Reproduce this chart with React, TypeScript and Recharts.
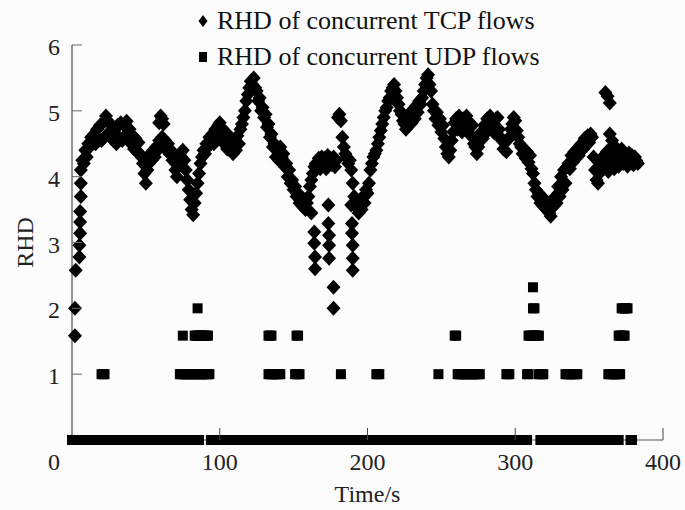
import { ScatterChart, Scatter, XAxis, YAxis, Legend } from 'recharts';

const FONT = "'Liberation Serif', 'Times New Roman', serif";

// RHD of concurrent TCP flows, read once per second starting at t = 6 s
const tcpStart = 6;
const tcpValues = [
  4.1, 4.25, 4.2, 4.4, 4.3, 4.5, 4.45, 4.6, 4.5, 4.65,
  4.5, 4.72, 4.55, 4.78, 4.55, 4.82, 4.6, 4.92, 4.65, 4.82,
  4.6, 4.78, 4.55, 4.72, 4.5, 4.78, 4.6, 4.82, 4.55, 4.78,
  4.62, 4.84, 4.6, 4.72, 4.5, 4.62, 4.42, 4.58, 4.38, 4.52,
  4.35, 4.3, 4.2, 4.05, 3.9, 4.1, 4.2, 4.35, 4.25, 4.4,
  4.3, 4.45, 4.4, 4.55, 4.5, 4.6, 4.5, 4.55, 4.4, 4.5,
  4.35, 4.4, 4.25, 4.3, 4.1, 4.0, 4.2, 4.35, 4.3, 4.4,
  4.25, 4.1, 3.95, 3.8, 3.65, 3.5, 3.42, 3.6, 3.75, 3.9,
  4.05, 4.2, 4.3, 4.4, 4.35, 4.5, 4.45, 4.6, 4.5, 4.65,
  4.5, 4.72, 4.55, 4.78, 4.82, 4.6, 4.72, 4.5, 4.68, 4.42,
  4.62, 4.4, 4.58, 4.35, 4.52, 4.4, 4.62, 4.5, 4.72, 4.8,
  4.9, 5.0, 5.15, 5.25, 5.35, 5.45, 5.4, 5.5, 5.35, 5.3,
  5.15, 5.2, 5.0, 5.05, 4.9, 4.95, 4.75, 4.8, 4.6, 4.65,
  4.45, 4.5, 4.3, 4.4, 4.25, 4.45, 4.3, 4.35, 4.15, 4.2,
  4.0, 4.1, 3.9, 3.95, 3.8, 3.85, 3.7, 3.75, 3.6, 3.7,
  3.55, 3.65, 3.5, 3.6, 3.7, 3.85, 3.95, 4.05, 4.15, 4.2,
  4.2, 4.28, 4.12, 4.3, 4.18, 4.28, 4.12, 4.32, 4.18, 4.28,
  4.18, 4.3, 4.15, 4.25, 4.9, 4.95, 4.85, 4.6, 4.45, 4.35,
  4.3, 4.2, 4.25, 4.1, 3.9, 3.7, 3.55, 3.6, 3.45, 3.65,
  3.5, 3.7, 3.6, 3.8, 3.75, 3.9, 4.1, 4.2, 4.3, 4.35,
  4.4, 4.5, 4.6, 4.7, 4.8, 4.9, 5.0, 5.05, 5.15, 5.2,
  5.3, 5.35, 5.4, 5.3, 5.2, 5.1, 5.0, 4.95, 4.85, 4.8,
  4.72, 4.88, 4.78, 4.98, 4.82, 5.02, 4.88, 5.08, 4.98, 5.15,
  5.1, 5.2, 5.3, 5.4, 5.5, 5.55, 5.4, 5.3, 5.1, 5.0,
  4.88, 4.98, 4.78, 4.88, 4.68, 4.78, 4.58, 4.45, 4.35, 4.3,
  4.4, 4.55, 4.68, 4.82, 4.88, 4.72, 4.92, 4.78, 4.68, 4.88,
  4.72, 4.92, 4.68, 4.82, 4.62, 4.78, 4.5, 4.45, 4.35, 4.45,
  4.55, 4.68, 4.58, 4.78, 4.66, 4.88, 4.76, 4.92, 4.72, 4.82,
  4.66, 4.88, 4.9, 4.72, 4.6, 4.55, 4.42, 4.52, 4.38, 4.56,
  4.6, 4.72, 4.8, 4.9, 4.85, 4.7, 4.6, 4.5, 4.45, 4.35,
  4.42, 4.28, 4.38, 4.22, 4.32, 4.12, 4.05, 3.9, 3.8, 3.7,
  3.75, 3.6, 3.7, 3.55, 3.65, 3.5, 3.6, 3.45, 3.4, 3.55,
  3.55, 3.7, 3.6, 3.85, 3.7, 4.0, 3.8, 4.1, 3.9, 4.15,
  4.2, 4.12, 4.32, 4.22, 4.38, 4.28, 4.42, 4.32, 4.48, 4.5,
  4.42, 4.58, 4.48, 4.62, 4.52, 4.65, 4.6, 4.3, 4.1, 3.95,
  3.9, 4.05, 4.2, 4.12, 4.32, 4.18, 4.38, 4.08, 4.28, 4.16,
  4.32, 4.12, 4.28, 4.38, 4.16, 4.32, 4.42, 4.2, 4.36, 4.26,
  4.16, 4.36, 4.22, 4.32, 4.18, 4.3, 4.24, 4.2,
];

// stray TCP points off the main band: [time, RHD]
const tcpExtra = [
  [2, 1.585], [2, 2], [2.5, 2.58], [5, 2.78], [5, 2.96], [5.5, 3.14], [5.5, 3.31], [5.5, 3.47], [6, 3.7], [6, 3.9],
  [59, 4.82], [60, 4.92], [61, 4.88], [62, 4.8],
  [162, 3.45], [164, 3.16], [164, 2.99], [164.5, 2.78], [164.5, 2.6],
  [173.5, 3.57], [173.5, 3.29], [174, 3.11], [174, 2.96], [174, 2.76], [177, 2.32], [177, 2],
  [189, 3.57], [189.5, 3.29], [189.5, 3.14], [190, 2.96], [190, 2.76], [190, 2.58],
  [361, 5.28], [362.5, 5.22], [364, 5.12], [364, 4.65], [365.5, 4.55], [366.5, 4.48],
];

// RHD of concurrent UDP flows, one point per second inside each run: [RHD, from, to]
const udpRuns = [
  [0, 0, 86], [0, 94, 308], [0, 317, 370], [0, 378, 379],
  [1, 20, 22], [1, 73, 93], [1, 133, 141], [1, 151, 154], [1, 182, 182], [1, 206, 208],
  [1, 248, 248], [1, 261, 276], [1, 294, 296], [1, 308, 309], [1, 316, 319], [1, 334, 342], [1, 363, 371],
  [1.585, 75, 75], [1.585, 83, 92], [1.585, 133, 135], [1.585, 152, 153], [1.585, 259, 260],
  [1.585, 309, 316], [1.585, 370, 374],
  [2, 85, 85], [2, 312, 313], [2, 372, 376],
  [2.32, 312, 312],
];

const xTicks = [0, 100, 200, 300, 400];
const yTicks = [0, 1, 2, 3, 4, 5, 6];

const tcpData = tcpValues
  .map((v, i) => ({ t: tcpStart + i, rhd: v }))
  .concat(tcpExtra.map(([t, v]) => ({ t, rhd: v })));

const udpData: { t: number; rhd: number }[] = [];
udpRuns.forEach(([v, from, to]) => {
  for (let t = from; t <= to; t++) udpData.push({ t, rhd: v });
});

const Diamond = (p: any) => (
  <path
    d={`M${p.cx},${p.cy - 7.5}L${p.cx + 7},${p.cy}L${p.cx},${p.cy + 7.5}L${p.cx - 7},${p.cy}Z`}
    fill="#000"
  />
);

const Square = (p: any) => <rect x={p.cx - 5} y={p.cy - 5} width={10} height={10} fill="#000" />;

const XTick = ({ x, y, payload }: any) => {
  const v = payload.value;
  return (
    <g>
      {v !== 0 && <line x1={x} y1={y} x2={x} y2={y - 12} stroke="#444" />}
      <text x={v === 0 ? x - 18 : x} y={y + 22} textAnchor="middle" dominantBaseline="central"
        fontSize={24} fontFamily={FONT} fill="#222">{v}</text>
    </g>
  );
};

const YTick = ({ x, y, payload }: any) => {
  const v = payload.value;
  if (v === 0) return <g />;
  return (
    <g>
      <line x1={x} y1={y} x2={x + 10} y2={y} stroke="#666" />
      <text x={x - 12} y={y + 2} textAnchor="end" dominantBaseline="central"
        fontSize={24} fontFamily={FONT} fill="#222">{v}</text>
    </g>
  );
};

const yLabel = (props: any) => {
  const vb = props.viewBox || { x: 0, y: 45, width: 72, height: 395 };
  const cx = vb.x + 25;
  const cy = vb.y + vb.height / 2;
  return (
    <text x={cx} y={cy} transform={`rotate(-90 ${cx} ${cy})`} textAnchor="middle"
      dominantBaseline="central" fontSize={24} fontFamily={FONT} fill="#222">RHD</text>
  );
};

const xLabel = (props: any) => {
  const vb = props.viewBox || { x: 72, y: 440, width: 591, height: 70 };
  return (
    <text x={vb.x + vb.width / 2} y={vb.y + 54} textAnchor="middle" dominantBaseline="central"
      fontSize={24} fontFamily={FONT} fill="#222">Time/s</text>
  );
};

const LegendBox = () => (
  <div style={{ fontFamily: FONT, fontSize: 26, lineHeight: '36px', color: '#111' }}>
    <div style={{ display: 'flex', alignItems: 'center' }}>
      <svg width={21} height={14} style={{ flexShrink: 0 }}>
        <path d="M7,1L11.5,7L7,13L2.5,7Z" fill="#000" />
      </svg>
      <span>RHD of concurrent TCP flows</span>
    </div>
    <div style={{ display: 'flex', alignItems: 'center' }}>
      <svg width={21} height={14} style={{ flexShrink: 0 }}>
        <rect x={3} y={2} width={8} height={10} fill="#000" />
      </svg>
      <span>RHD of concurrent UDP flows</span>
    </div>
  </div>
);

export default function App() {
  return (
    <div style={{ position: 'absolute', left: 0, top: 0, width: 685, height: 510, background: '#fcfcfc' }}>
      <ScatterChart width={685} height={510} margin={{ top: 45, right: 22, bottom: 0, left: 0 }}>
        <XAxis
          type="number"
          dataKey="t"
          domain={[0, 400]}
          ticks={xTicks}
          height={70}
          tickSize={0}
          tickMargin={0}
          tickLine={false}
          tick={<XTick />}
          axisLine={{ stroke: '#555', strokeWidth: 1.2 }}
          label={xLabel}
        />
        <YAxis
          type="number"
          dataKey="rhd"
          domain={[0, 6]}
          ticks={yTicks}
          width={72}
          tickSize={0}
          tickMargin={0}
          tickLine={false}
          tick={<YTick />}
          axisLine={{ stroke: '#888', strokeWidth: 1.8 }}
          label={yLabel}
        />
        <Legend
          layout="vertical"
          align="center"
          verticalAlign="middle"
          wrapperStyle={{ top: 3, left: 196, width: 420 }}
          content={<LegendBox />}
        />
        <Scatter name="RHD of concurrent TCP flows" data={tcpData} shape={<Diamond />} isAnimationActive={false} />
        <Scatter name="RHD of concurrent UDP flows" data={udpData} shape={<Square />} isAnimationActive={false} />
      </ScatterChart>
    </div>
  );
}
